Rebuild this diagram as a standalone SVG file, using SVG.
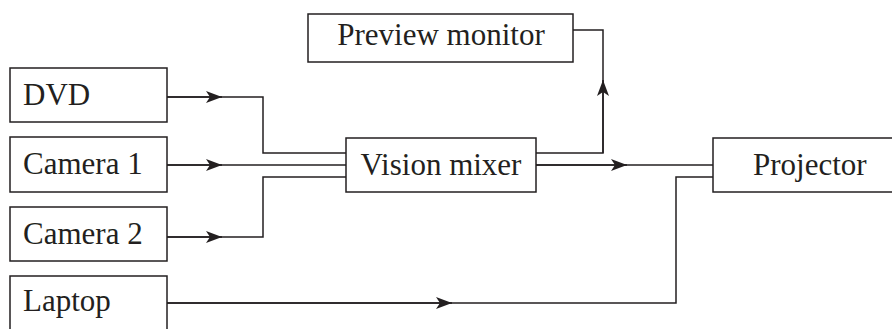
<svg xmlns="http://www.w3.org/2000/svg" width="892" height="329" viewBox="0 0 892 329">
<style>
.box{fill:#fff;stroke:#231f20;stroke-width:1.5}
.lbl{font-family:"Liberation Serif","Times New Roman",serif;font-size:31px;fill:#231f20}
.c{text-anchor:middle}
.wire{fill:none;stroke:#231f20;stroke-width:1.5}
</style>
<defs>
<marker id="ah" markerWidth="18" markerHeight="12" refX="16" refY="6" orient="auto" markerUnits="userSpaceOnUse">
<path d="M0,0 L16,6 L0,12 L4,6 Z" fill="#231f20"/>
</marker>
</defs>
<rect width="892" height="329" fill="#fff"/>
<g id="connectors">
<path class="wire" d="M167,97 H263 V153 H346"/>
<path class="wire" d="M167,97 H222" marker-end="url(#ah)"/>
<path class="wire" d="M167,165 H346"/>
<path class="wire" d="M167,165 H222" marker-end="url(#ah)"/>
<path class="wire" d="M167,237 H263 V177 H346"/>
<path class="wire" d="M167,237 H222" marker-end="url(#ah)"/>
<path class="wire" d="M536,153 H603 V30 H573"/>
<path class="wire" d="M603,153 V80" marker-end="url(#ah)"/>
<path class="wire" d="M536,165 H713"/>
<path class="wire" d="M536,165 H627" marker-end="url(#ah)"/>
<path class="wire" d="M167,303 H676 V177 H713"/>
<path class="wire" d="M167,303 H452" marker-end="url(#ah)"/>
</g>
<g id="dvd"><rect class="box" x="10" y="68" width="157" height="54"/><text class="lbl" x="23" y="105">DVD</text></g>
<g id="camera1"><rect class="box" x="10" y="137" width="157" height="55"/><text class="lbl" x="23" y="174">Camera 1</text></g>
<g id="camera2"><rect class="box" x="10" y="207" width="157" height="54"/><text class="lbl" x="23" y="244">Camera 2</text></g>
<g id="laptop"><rect class="box" x="10" y="276" width="157" height="70"/><text class="lbl" x="23" y="311">Laptop</text></g>
<g id="mixer"><rect class="box" x="346" y="138" width="190" height="54"/><text class="lbl c" x="441" y="175">Vision mixer</text></g>
<g id="preview"><rect class="box" x="308" y="14" width="265" height="48"/><text class="lbl c" x="441" y="45">Preview monitor</text></g>
<g id="projector"><rect class="box" x="713" y="138" width="190" height="54"/><text class="lbl" x="753" y="175">Projector</text></g>
</svg>
